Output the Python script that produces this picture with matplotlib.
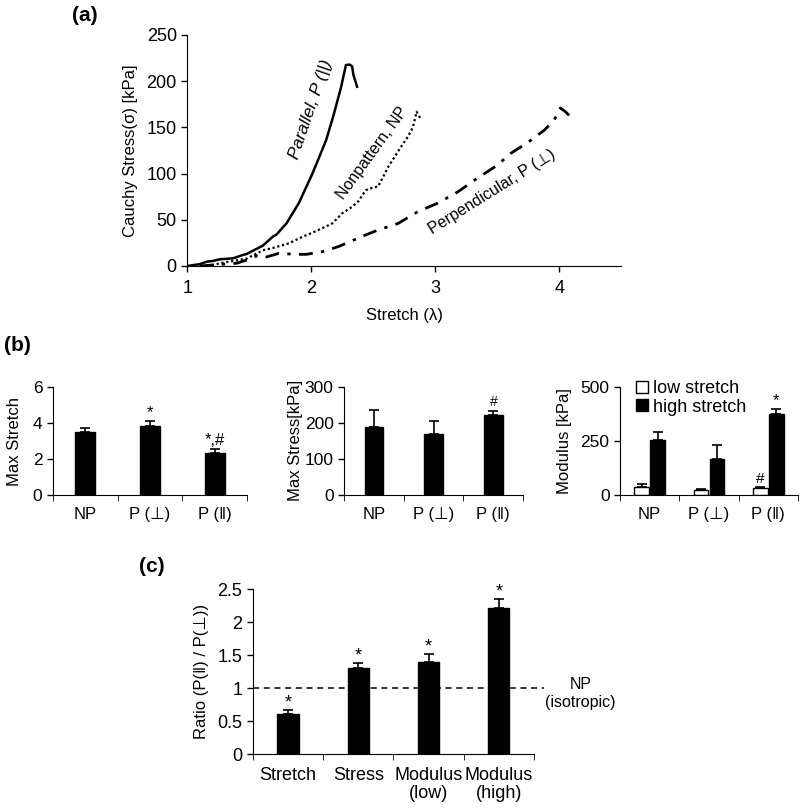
import matplotlib
matplotlib.use("Agg")
import matplotlib.pyplot as plt
import matplotlib.transforms as mtransforms
from matplotlib.patches import Patch
import numpy as np

plt.rcParams["font.family"] = ["Liberation Sans", "DejaVu Sans"]

# ---- panel (a): stress-stretch curves ----
par_x = [1.00, 1.10, 1.16, 1.21, 1.26, 1.37, 1.45, 1.48, 1.58, 1.61, 1.69, 1.72, 1.80,
         1.90, 2.01, 2.12, 2.18, 2.24, 2.28, 2.31, 2.33, 2.34, 2.37]
par_y = [0.0, 2.0, 4.7, 5.5, 7.2, 8.3, 12.0, 13.0, 20.0, 22.0, 31.7, 34.0, 46.0,
         68.0, 100.0, 136.0, 163.0, 193.0, 217.5, 218.0, 216.0, 207.0, 194.0]

np_x = [1.16, 1.25, 1.34, 1.48, 1.61, 1.69, 1.82, 1.93, 2.01, 2.17, 2.25, 2.33, 2.38,
        2.44, 2.50, 2.54, 2.62, 2.70, 2.78, 2.82, 2.85, 2.88]
np_y = [0.0, 2.5, 4.7, 8.0, 17.0, 19.5, 24.5, 31.7, 36.0, 46.0, 57.0, 64.0, 70.0,
        82.0, 85.0, 86.0, 107.0, 124.0, 140.0, 150.0, 167.0, 160.0]

perp_x = [1.10, 1.25, 1.40, 1.48, 1.56, 1.62, 1.74, 1.88, 1.96, 2.09, 2.22, 2.41, 2.54,
          2.70, 2.86, 3.02, 3.18, 3.34, 3.50, 3.61, 3.74, 3.88, 3.96, 4.01, 4.05, 4.08]
perp_y = [0.0, 1.5, 3.0, 6.5, 11.0, 9.0, 13.7, 12.6, 12.6, 15.5, 21.0, 32.0, 39.0,
          46.0, 58.8, 68.0, 80.0, 95.0, 109.0, 122.0, 133.0, 147.0, 158.0, 171.0, 167.0, 163.0]

# ---- panel (b) ----
groups = ["NP", "P (\u22a5)", "P (\u2016)"]
max_stretch = [3.50, 3.83, 2.35]
max_stretch_err = [0.20, 0.27, 0.18]
max_stress = [189, 169, 221]
max_stress_err = [46, 36, 13]
mod_low = [36, 23, 34]
mod_low_err = [15, 3, 2]
mod_high = [255, 169, 376]
mod_high_err = [39, 65, 23]
stretch_marks = ["", "*", "*,#"]
stress_marks = ["", "", "#"]
low_marks = ["", "", "#"]
high_marks = ["", "", "*"]

# ---- panel (c) ----
ratio_cats = ["Stretch", "Stress", "Modulus\n(low)", "Modulus\n(high)"]
ratio = [0.61, 1.31, 1.39, 2.22]
ratio_err = [0.05, 0.07, 0.13, 0.13]
ratio_marks = ["*", "*", "*", "*"]


def style_axes(ax):
    for s in ("top", "right"):
        ax.spines[s].set_visible(False)
    ax.tick_params(direction="out", length=4, width=1, colors="black")


def cat_axis(ax, n, labels, fs):
    ax.set_xlim(0, n)
    ax.set_xticks(np.arange(n) + 0.5)
    ax.set_xticklabels(labels, fontsize=fs, linespacing=1.15)
    ax.set_xticks(np.arange(n + 1), minor=True)
    ax.tick_params(axis="x", which="major", length=0, pad=9)
    ax.tick_params(axis="x", which="minor", length=4, direction="out")


def up_bars(ax, x, h, err, width, face):
    ax.bar(x, h, width=width, color=face, edgecolor="black", linewidth=1)
    ax.errorbar(x, h, yerr=[np.zeros(len(h)), err], fmt="none", ecolor="black",
                elinewidth=1.2, capsize=3.5, capthick=1.2)


def marks(ax, x, tops, labels, fs=11, dy=1):
    for xi, t, lab in zip(x, tops, labels):
        if lab:
            ax.annotate(lab, (xi, t), xytext=(0, dy), textcoords="offset points",
                        ha="center", va="bottom", fontsize=fs)


fig = plt.figure(figsize=(8.0, 8.08), dpi=100)

# ---------------- (a) ----------------
ax = fig.add_axes([0.234, 0.6708, 0.5425, 0.2859])
style_axes(ax)
ax.plot(par_x, par_y, color="black", lw=1.8, ls="-")
ax.plot(np_x, np_y, color="black", lw=1.6, ls=(0, (1, 1.2)))
ax.plot(perp_x, perp_y, color="black", lw=2.0, ls=(0, (5, 3, 1.2, 3)))
ax.set_xlim(1, 4.5)
ax.set_ylim(0, 250)
ax.set_xticks([1, 2, 3, 4])
ax.set_yticks([0, 50, 100, 150, 200, 250])
ax.tick_params(labelsize=13)
ax.tick_params(axis="x", pad=6)
ax.set_xlabel("Stretch (\u03bb)", fontsize=12, labelpad=8)
ax.set_ylabel("Cauchy Stress(\u03c3) [kPa]", fontsize=12, labelpad=6)
ax.text(2.0, 170, "Parallel, P (||)", rotation=71, ha="center", va="center",
        fontsize=12.5, style="italic")
ax.text(2.49, 122, "Nonpattern, NP", rotation=54, ha="center", va="center", fontsize=11.5)
ax.text(3.46, 80, "Perpendicular, P (\u22a5)", rotation=32, ha="center", va="center",
        fontsize=11.5)
fig.text(0.106, 0.981, "(a)", fontsize=15, fontweight="bold", ha="center", va="center")

# ---------------- (b) ----------------
xb = np.arange(3) + 0.5
ax1 = fig.add_axes([0.066, 0.3874, 0.243, 0.1336])
style_axes(ax1)
up_bars(ax1, xb, max_stretch, max_stretch_err, 0.31, "black")
cat_axis(ax1, 3, groups, 12)
ax1.set_ylim(0, 6)
ax1.set_yticks([0, 2, 4, 6])
ax1.tick_params(axis="y", labelsize=12.5)
ax1.set_ylabel("Max Stretch", fontsize=12, labelpad=8)
marks(ax1, xb, np.add(max_stretch, max_stretch_err), stretch_marks, fs=12)

ax2 = fig.add_axes([0.43, 0.3874, 0.224, 0.1340])
style_axes(ax2)
up_bars(ax2, xb, max_stress, max_stress_err, 0.31, "black")
cat_axis(ax2, 3, groups, 12)
ax2.set_ylim(0, 300)
ax2.set_yticks([0, 100, 200, 300])
ax2.tick_params(axis="y", labelsize=12.5)
ax2.set_ylabel("Max Stress[kPa]", fontsize=12, labelpad=1)
marks(ax2, xb, np.add(max_stress, max_stress_err), stress_marks, fs=10)

ax3 = fig.add_axes([0.775, 0.3874, 0.2225, 0.1332])
style_axes(ax3)
up_bars(ax3, xb - 0.135, mod_low, mod_low_err, 0.25, "white")
up_bars(ax3, xb + 0.135, mod_high, mod_high_err, 0.25, "black")
cat_axis(ax3, 3, groups, 12)
ax3.set_ylim(0, 500)
ax3.set_yticks([0, 250, 500])
ax3.tick_params(axis="y", labelsize=12.5)
ax3.set_ylabel("Modulus [kPa]", fontsize=12, labelpad=6)
marks(ax3, xb - 0.135, np.add(mod_low, mod_low_err), low_marks, fs=11)
marks(ax3, xb + 0.135, np.add(mod_high, mod_high_err), high_marks, fs=12)
ax3.legend(handles=[Patch(facecolor="white", edgecolor="black", label="low stretch"),
                    Patch(facecolor="black", edgecolor="black", label="high stretch")],
           loc="upper left", bbox_to_anchor=(0.03, 1.17), frameon=False, fontsize=13,
           handlelength=0.65, handleheight=0.65, handletextpad=0.3, labelspacing=0.1,
           borderpad=0.1)
fig.text(0.022, 0.573, "(b)", fontsize=15, fontweight="bold", ha="center", va="center")

# ---------------- (c) ----------------
xc = np.arange(4) + 0.5
axc = fig.add_axes([0.316, 0.0668, 0.3516, 0.2042])
style_axes(axc)
up_bars(axc, xc, ratio, ratio_err, 0.3, "black")
cat_axis(axc, 4, ratio_cats, 13)
axc.set_ylim(0, 2.5)
axc.set_yticks([0, 0.5, 1, 1.5, 2, 2.5])
axc.set_yticklabels(["0", "0.5", "1", "1.5", "2", "2.5"])
axc.tick_params(axis="y", labelsize=13)
axc.set_ylabel("Ratio (P(\u2016) / P(\u22a5))", fontsize=12, labelpad=6)
marks(axc, xc, np.add(ratio, ratio_err), ratio_marks, fs=13, dy=-1)
trans = mtransforms.blended_transform_factory(axc.transAxes, axc.transData)
axc.plot([0, 1.035], [1, 1], transform=trans, clip_on=False, color="black",
         lw=1.1, ls=(0, (4, 3)))
axc.text(1.165, 0.91, "NP\n(isotropic)", transform=trans, ha="center", va="center",
         fontsize=11.5, linespacing=1.25)
fig.text(0.19, 0.299, "(c)", fontsize=15, fontweight="bold", ha="center", va="center")

fig.savefig("out.png", dpi=100)
